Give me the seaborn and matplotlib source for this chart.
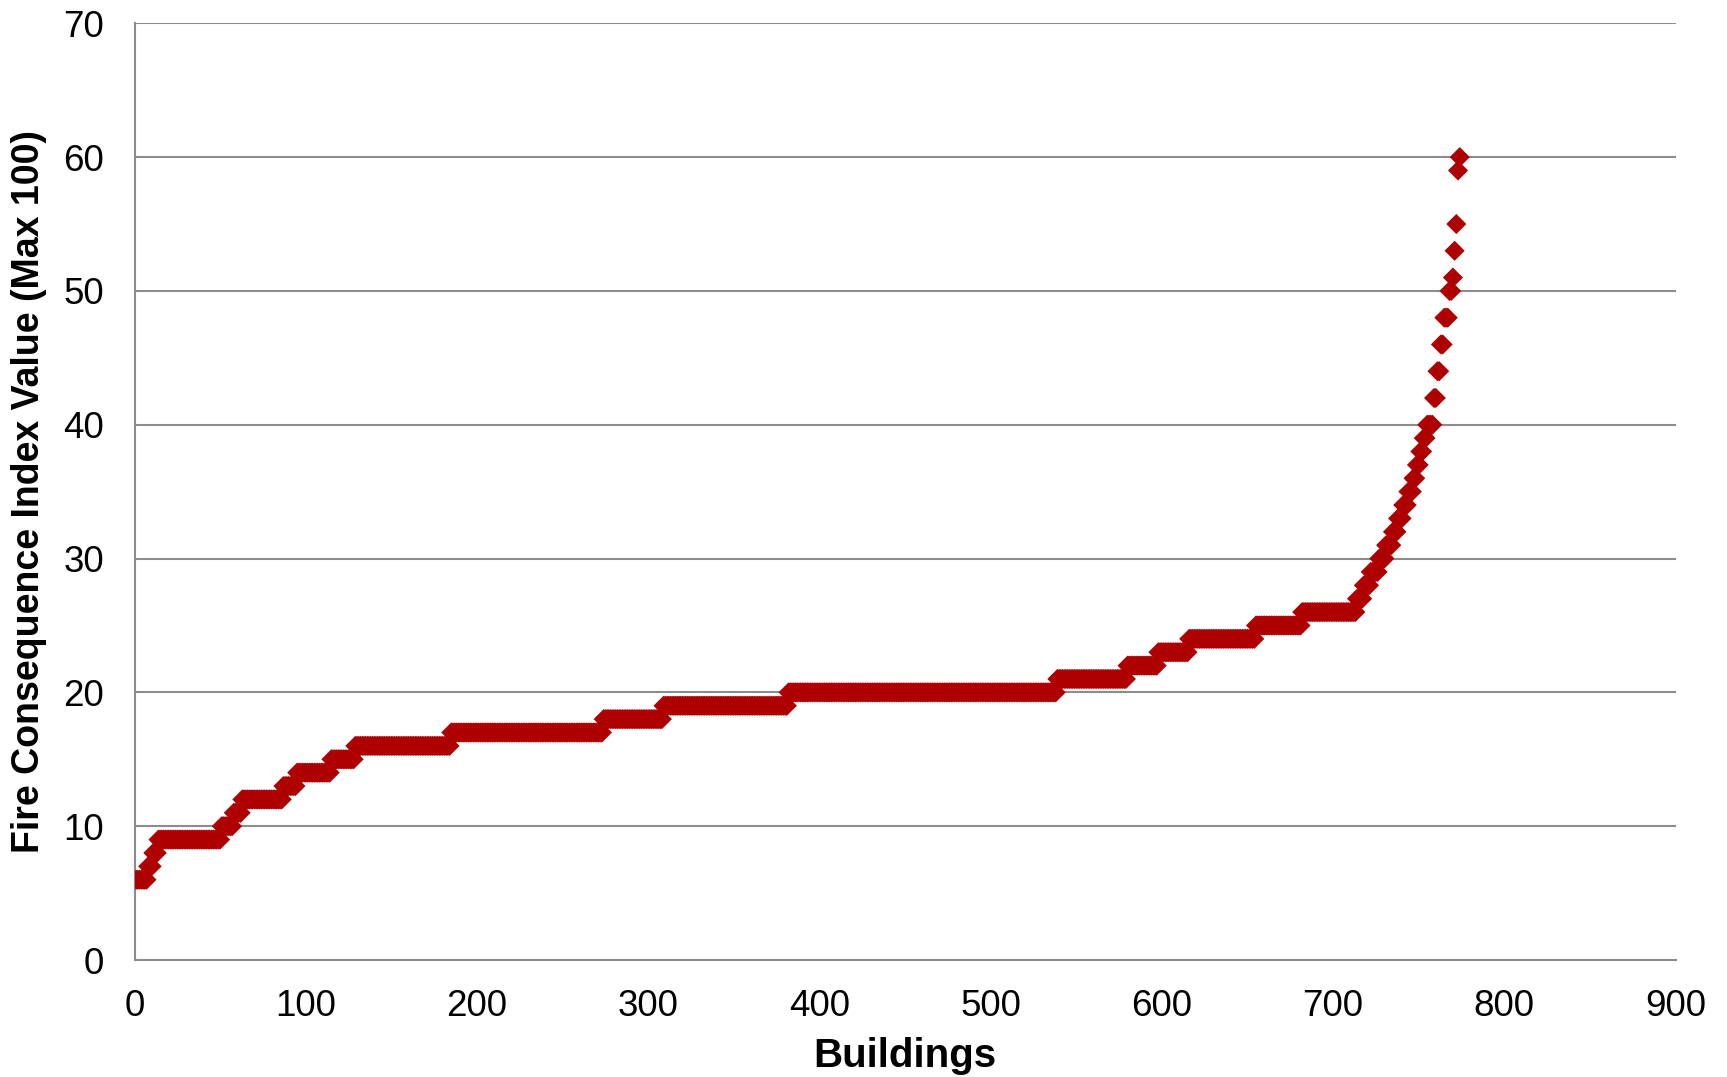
import numpy as np
import pandas as pd
import matplotlib
matplotlib.use("Agg")
import matplotlib.pyplot as plt
import seaborn as sns

# Fire consequence index levels (sorted ascending) and how many buildings sit at each level
index_levels = [6, 7, 8, 9, 10, 11, 12, 13, 14, 15, 16, 17, 18, 19, 20,
                21, 22, 23, 24, 25, 26, 27, 28, 29, 30, 31, 32, 33, 34, 35,
                36, 37, 38, 39, 40, 42, 44, 46, 48, 50, 51, 53, 55, 59, 60]
building_counts = [7, 3, 3, 37, 7, 5, 24, 8, 20, 14, 56, 89, 35, 73, 157,
                   41, 18, 18, 39, 27, 32, 4, 4, 5, 4, 4, 3, 3, 3, 3,
                   2, 2, 2, 2, 4, 2, 2, 2, 3, 2, 1, 1, 1, 1, 1]

x_ticks = [0, 100, 200, 300, 400, 500, 600, 700, 800, 900]
y_ticks = [0, 10, 20, 30, 40, 50, 60, 70]

values = np.repeat(index_levels, building_counts)
df = pd.DataFrame({"Buildings": np.arange(1, len(values) + 1), "FCI": values})

sns.set_theme(style="white")
plt.rcParams["font.family"] = ["Liberation Sans", "DejaVu Sans"]

fig = plt.figure(figsize=(17.27, 10.77), dpi=100)
ax = fig.add_axes([134.5 / 1727, 117 / 1077, (1675.5 - 134.5) / 1727, (960 - 23.3) / 1077])

grid_col = "#8c8c8c"
ax.set_axisbelow(True)
ax.yaxis.grid(True, color=grid_col, linewidth=1.5)
ax.xaxis.grid(False)

sns.scatterplot(data=df, x="Buildings", y="FCI", marker="D", s=105,
                color="#AE0000", edgecolor="none", linewidth=0, ax=ax, zorder=3)

ax.set_xlim(0, 900)
ax.set_ylim(0, 70)
ax.set_xticks(x_ticks)
ax.set_yticks(y_ticks)
ax.tick_params(axis="both", labelsize=26.5, colors=grid_col, labelcolor="black",
               length=8, width=1.5, direction="out", pad=13)
ax.tick_params(axis="y", length=0, pad=22)

for side in ("top", "right"):
    ax.spines[side].set_visible(False)
for side in ("left", "bottom"):
    ax.spines[side].set_color(grid_col)
    ax.spines[side].set_linewidth(1.5)

ax.set_xlabel("Buildings", fontsize=29, fontweight="bold", labelpad=9, color="black")
ax.set_ylabel("Fire Consequence Index Value (Max 100)", fontsize=27,
              fontweight="bold", labelpad=12, color="black")

fig.savefig("out.png", dpi=100, facecolor="white")
